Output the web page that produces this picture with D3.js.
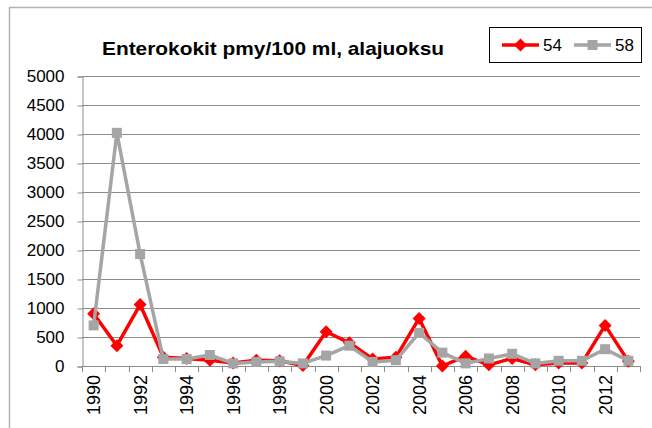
<!DOCTYPE html>
<html>
<head>
<meta charset="utf-8">
<script src="https://cdn.jsdelivr.net/npm/d3@7"></script>
<style>
  html, body { margin: 0; padding: 0; background: #fff; }
  svg { display: block; }
  text { font-family: "Liberation Sans", Arial, sans-serif; fill: #000; }
</style>
</head>
<body>
<svg id="chart" width="652" height="428"></svg>
<script>
const years = d3.range(1990, 2014);
const series54 = [900, 350, 1060, 150, 130, 100, 50, 100, 90, 10, 590, 400, 120, 150, 820, 0, 170, 20, 130, 20, 50, 50, 700, 80];
const series58 = [700, 4020, 1930, 120, 120, 190, 45, 70, 80, 45, 180, 350, 70, 100, 570, 230, 45, 130, 210, 45, 90, 90, 290, 90];
const yTicks = d3.range(0, 5001, 500);
const xLabelYears = d3.range(1990, 2013, 2);
const titleText = "Enterokokit pmy/100 ml, alajuoksu";
const seriesNames = ["54", "58"];
const seriesColors = ["#FF0000", "#A5A5A5"];

const svg = d3.select("#chart");

// outer frame
svg.append("rect").attr("x", 9.5).attr("y", 7.5).attr("width", 700).attr("height", 500)
  .attr("fill", "none").attr("stroke", "#b3b3b3").attr("stroke-width", 1.5);

const plot = {left: 82, right: 640, top: 76, bottom: 366};

const x = d3.scaleBand().domain(years).range([plot.left, plot.right]);
const y = d3.scaleLinear().domain([0, 5000]).range([plot.bottom, plot.top]);

// gridlines
svg.append("g").selectAll("line").data(yTicks).join("line")
  .attr("x1", plot.left).attr("x2", plot.right)
  .attr("y1", d => Math.round(y(d)) + 0.5).attr("y2", d => Math.round(y(d)) + 0.5)
  .attr("stroke", "#8c8c8c").attr("stroke-width", 1);

// y axis
const yAxis = svg.append("g").attr("transform", `translate(${plot.left + 0.5},0.5)`)
  .call(d3.axisLeft(y).tickValues(yTicks).tickSize(5).tickPadding(13).tickFormat(d3.format("d")));
yAxis.select(".domain").attr("stroke", "#8c8c8c");
yAxis.selectAll(".tick line").attr("stroke", "#8c8c8c");
yAxis.selectAll(".tick text").attr("font-size", 17).attr("font-family", "Liberation Sans, Arial, sans-serif").attr("fill", "#000");

// x axis line and ticks at category boundaries
const xg = svg.append("g");
xg.append("line").attr("x1", plot.left).attr("x2", plot.right)
  .attr("y1", plot.bottom + 0.5).attr("y2", plot.bottom + 0.5).attr("stroke", "#8c8c8c");
const bounds = years.map(yv => x(yv)).concat([plot.right]);
xg.selectAll("line.tk").data(bounds).join("line").attr("class", "tk")
  .attr("x1", d => Math.round(d) + 0.5).attr("x2", d => Math.round(d) + 0.5)
  .attr("y1", plot.bottom).attr("y2", plot.bottom + 6).attr("stroke", "#8c8c8c");
xg.selectAll("text").data(xLabelYears).join("text")
  .attr("transform", d => `translate(${x(d) + x.bandwidth() / 2 + 6.5},${plot.bottom + 9}) rotate(-90)`)
  .attr("text-anchor", "end").attr("font-size", 18).text(d => d);

// lines
const cx = d => x(d) + x.bandwidth() / 2;
const lineGen = d3.line().x((d, i) => cx(years[i])).y(d => y(d));

const allSeries = [series54, series58];
allSeries.forEach((s, k) => {
  svg.append("path").datum(s).attr("d", lineGen).attr("fill", "none")
    .attr("stroke", seriesColors[k]).attr("stroke-width", 3.5).attr("stroke-linejoin", "round");
  const g = svg.append("g");
  if (k === 0) {
    g.selectAll("path").data(s).join("path")
      .attr("transform", (d, i) => `translate(${cx(years[i])},${y(d)})`)
      .attr("d", "M0,-6.5L6.5,0L0,6.5L-6.5,0Z").attr("fill", seriesColors[k]);
  } else {
    g.selectAll("rect").data(s).join("rect")
      .attr("x", (d, i) => cx(years[i]) - 5).attr("y", d => y(d) - 5)
      .attr("width", 10).attr("height", 10).attr("fill", seriesColors[k]);
  }
});

// title
svg.append("text").attr("x", 102).attr("y", 55).attr("font-size", 19).attr("font-weight", "bold")
  .attr("textLength", 342).attr("lengthAdjust", "spacingAndGlyphs").text(titleText);

// legend
const lg = svg.append("g");
lg.append("rect").attr("x", 489.5).attr("y", 27.5).attr("width", 152).attr("height", 35)
  .attr("fill", "#fff").attr("stroke", "#000").attr("stroke-width", 1);
const legendX = [502, 574];
seriesNames.forEach((nm, k) => {
  const lx = legendX[k];
  lg.append("line").attr("x1", lx).attr("x2", lx + 37).attr("y1", 45).attr("y2", 45)
    .attr("stroke", seriesColors[k]).attr("stroke-width", 3.5);
  if (k === 0) {
    lg.append("path").attr("transform", `translate(${lx + 18.5},45)`)
      .attr("d", "M0,-6.5L6.5,0L0,6.5L-6.5,0Z").attr("fill", seriesColors[k]);
  } else {
    lg.append("rect").attr("x", lx + 13.5).attr("y", 40).attr("width", 10).attr("height", 10)
      .attr("fill", seriesColors[k]);
  }
  lg.append("text").attr("x", lx + 41).attr("y", 51).attr("font-size", 17).text(nm);
});
</script>
</body>
</html>
